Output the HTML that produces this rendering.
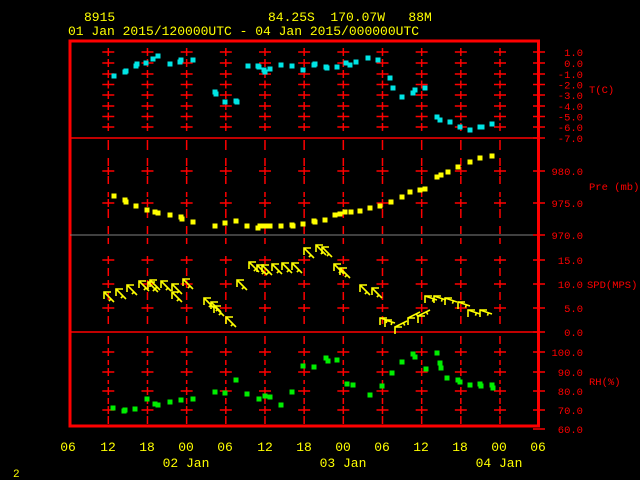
<!DOCTYPE html>
<html><head><meta charset="utf-8"><style>
html,body{margin:0;padding:0;background:#000;width:640px;height:480px;overflow:hidden}
svg{display:block}
text{font-family:"Liberation Mono","DejaVu Sans Mono",monospace}
</style></head><body>
<svg width="640" height="480" viewBox="0 0 640 480" xmlns="http://www.w3.org/2000/svg">
<rect width="640" height="480" fill="#000"/>
<g fill="#ffff00" font-size="13">
<text x="84" y="21">8915</text>
<text x="268" y="21" xml:space="preserve">84.25S  170.07W   88M</text>
<text x="68" y="35">01 Jan 2015/120000UTC - 04 Jan 2015/000000UTC</text>
<g font-size="13" text-anchor="middle">
<text x="68" y="451">06</text><text x="108" y="451">12</text><text x="147" y="451">18</text><text x="186" y="451">00</text><text x="225" y="451">06</text><text x="265" y="451">12</text><text x="304" y="451">18</text><text x="343" y="451">00</text><text x="382" y="451">06</text><text x="421" y="451">12</text><text x="460" y="451">18</text><text x="499" y="451">00</text><text x="538" y="451">06</text>
<text x="186" y="467">02 Jan</text><text x="343" y="467">03 Jan</text><text x="499" y="467">04 Jan</text>
</g>
<text x="13" y="477" font-size="11">2</text>
</g>
<g id="grid" stroke="#ff0000" stroke-width="1.5"></g>
<g stroke="#ff0000" fill="none">
<rect x="70" y="41" width="468.5" height="385" stroke-width="3"/>
<line x1="70" y1="138" x2="539" y2="138" stroke-width="1.5"/>
<line x1="70" y1="332" x2="539" y2="332" stroke-width="1.5"/>
</g>
<line x1="70" y1="235" x2="539" y2="235" stroke="#808080" stroke-width="1"/>
<g id="rt" stroke="#ff0000" stroke-width="1.5"></g>
<g fill="#ff0000" font-size="10.5" text-anchor="end" id="rl"></g>
<g fill="#ff0000" font-size="10.5">
<text x="589" y="93">T(C)</text>
<text x="589" y="190">Pre (mb)</text>
<text x="587" y="288">SPD(MPS)</text>
<text x="589" y="385">RH(%)</text>
</g>
<g id="pts"></g>
<g id="wind" stroke="#ffff00" stroke-width="1.6" fill="none"></g>
<script>
var NS="http://www.w3.org/2000/svg";
function el(p,t,a){var e=document.createElementNS(NS,t);for(var k in a)e.setAttribute(k,a[k]);p.appendChild(e);return e;}
var g=document.getElementById('grid');
var xs=[];for(var i=0;i<11;i++)xs.push(108.3+39.17*i);
var Ty=[52,63,74,84.5,95,106,116.5,127];
var Py=[171,203],Sy=[260,284,308],Ry=[352,372,391,410];
xs.forEach(function(x){
 [Ty,Py,Sy,Ry].forEach(function(a){a.forEach(function(y){el(g,'line',{x1:x-6,y1:y,x2:x+6,y2:y});el(g,'line',{x1:x,y1:y-4,x2:x,y2:y+4});});});
 [[140,150],[158,166],[176,184],[192,197],[209,218],[226,234],[238,244],[268,276],[292,300],[316,324],[336,344],[360,365],[380,384],[398,404],[416,424]].forEach(function(s){el(g,'line',{x1:x,y1:s[0],x2:x,y2:s[1]});});
});
var rt=document.getElementById('rt'),rl=document.getElementById('rl');
function lab(y,t){el(rt,'line',{x1:533,y1:y,x2:545,y2:y});var e=el(rl,'text',{x:583,y:y+4});e.textContent=t;}
[["1.0",52],["0.0",63],["-1.0",74],["-2.0",84.5],["-3.0",95],["-4.0",106],["-5.0",116.5],["-6.0",127],["-7.0",138],
["980.0",171],["975.0",203],["970.0",235],["15.0",260],["10.0",284],["5.0",308],["0.0",332],
["100.0",352],["90.0",372],["80.0",391],["70.0",410],["60.0",429]].forEach(function(a){lab(a[1],a[0]);});
var pts=document.getElementById('pts');
function sq(list,c){list.forEach(function(p){el(pts,'rect',{x:p[0]-2.5,y:p[1]-2.5,width:5,height:5,fill:c});});}
sq([[114,76],[125,72],[126,71],[136,66],[137,64],[146,63],[153,59],[158,56],[170,64],[180,62],[181,60],[193,60],[215,92],[216,94],[225,102],[236,101],[237,102],[248,66],[258,66],[259,67],[264,70],[265,72],[270,69],[281,65],[292,66],[303,70],[314,65],[315,64],[326,67],[327,68],[337,67],[346,63],[350,65],[356,62],[368,58],[378,60],[390,78],[393,88],[402,97],[413,93],[415,90],[425,88],[437,117],[440,120],[450,122],[460,127],[470,130],[480,127],[482,127],[492,124]],'#00e5e5');
sq([[114,196],[125,200],[126,202],[136,206],[147,210],[155,212],[158,213],[170,215],[181,217],[182,219],[193,222],[215,226],[225,223],[236,221],[247,226],[258,228],[260,226],[265,226],[270,226],[281,226],[292,225],[293,226],[303,224],[314,221],[315,222],[325,220],[335,215],[340,214],[345,212],[351,212],[360,211],[370,208],[380,206],[391,202],[402,197],[410,192],[420,190],[425,189],[437,177],[441,175],[448,172],[458,167],[470,162],[480,158],[492,156]],'#ffff00');
sq([[113,408],[124,411],[125,410],[135,409],[147,399],[155,404],[158,405],[170,402],[181,400],[193,399],[215,392],[225,393],[236,380],[247,394],[259,399],[265,396],[270,397],[281,405],[292,392],[303,366],[314,367],[326,358],[328,361],[337,360],[347,384],[353,385],[370,395],[382,386],[392,373],[402,362],[413,354],[415,357],[426,369],[437,353],[440,363],[441,368],[447,378],[458,380],[460,382],[470,385],[480,384],[481,386],[492,385],[493,388]],'#00ee00');
var w=document.getElementById('wind');
function arr(x,y,dx,dy){var L=Math.sqrt(dx*dx+dy*dy),ux=dx/L,uy=dy/L;
 el(w,'line',{x1:x,y1:y,x2:x+dx,y2:y+dy});
 el(w,'polyline',{points:(x+7)+','+y+' '+x+','+y+' '+x+','+(y+7)});
 el(w,'line',{x1:x+dx*0.7,y1:y+dy*0.7,x2:x+dx*0.7-uy*3,y2:y+dy*0.7+ux*3});}
[[104,292],[116,289],[127,285],[139,281],[148,282],[150,280],[161,281],[172,284],[172,292],[183,279],[204,298],[211,302],[214,306],[226,317],[237,280],[249,262],[257,265],[262,265],[272,264],[282,263],[292,263],[304,248],[316,245],[322,247],[334,264],[340,268],[360,285],[372,288]].forEach(function(p){arr(p[0],p[1],10,10);});
[[380,318],[385,320]].forEach(function(p){arr(p[0],p[1],10,3);});
[[395,327],[408,318],[418,316]].forEach(function(p){arr(p[0],p[1],12,-6);});
[[425,296],[434,296],[445,298],[458,302],[468,310],[480,310]].forEach(function(p){arr(p[0],p[1],12,4);});
</script>
</svg>
</body></html>
